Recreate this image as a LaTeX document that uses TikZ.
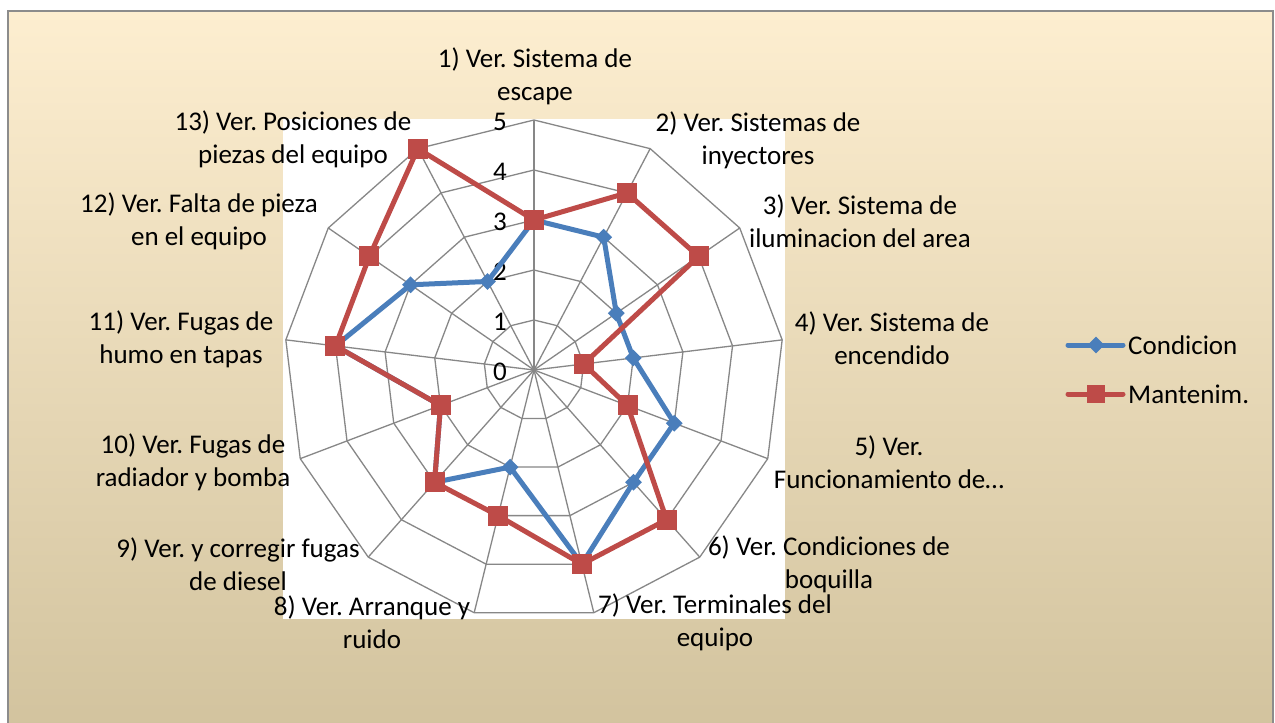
\documentclass[tikz,border=0pt]{standalone}
\usepackage{fontspec}
\setmainfont{Carlito}
\frenchspacing
\usetikzlibrary{shapes.geometric}
\definecolor{bgtop}{HTML}{FDEED0}
\definecolor{bgmid}{HTML}{F2EAD6}
\definecolor{bgbot}{HTML}{D2C39E}
\definecolor{gridc}{HTML}{878787}
\definecolor{framec}{HTML}{8C8C8C}
\definecolor{condc}{HTML}{4A7EBB}
\definecolor{mantc}{HTML}{BE4B48}
\tikzset{
  gridline/.style={draw=gridc, line width=1.3pt},
  condline/.style={draw=condc, line width=5pt, line join=round, line cap=round},
  mantline/.style={draw=mantc, line width=5pt, line join=round, line cap=round},
  dmark/.style={diamond, fill=condc, inner sep=0pt, minimum width=17pt, minimum height=17pt},
  smark/.style={rectangle, fill=mantc, inner sep=0pt, minimum size=20pt},
  lsmark/.style={rectangle, fill=mantc, inner sep=0pt, minimum size=18pt},
  lbl/.style={font=\fontsize{27}{33}\selectfont, align=center, inner sep=0pt, text=black},
  tick/.style={font=\fontsize{27}{31}\selectfont, inner sep=0pt, text=black},
  leg/.style={font=\fontsize{27}{31}\selectfont, inner sep=0pt, anchor=west, text=black}
}
\begin{document}
\begin{tikzpicture}[x=1pt, y=-1pt]
\useasboundingbox (0,0) rectangle (1275,723);
\fill[white] (0,0) rectangle (1275,723);
\shade[top color=bgtop, middle color=bgmid, bottom color=bgbot] (8,11) rectangle (1273,730);
\draw[framec, line width=2pt] (8,730) -- (8,11) -- (1273,11) -- (1273,730);
\fill[white] (283,119) rectangle (785,619);
% grid
\foreach \r in {1,...,5} {
  \draw[gridline] plot[samples at={0,...,12}] ({534+50*\r*sin(\x*360/13)},{370-50*\r*cos(\x*360/13)}) -- cycle;
}
\coordinate (c) at (534,370);
\foreach \k in {0,...,12} {
  \coordinate (ax\k) at ({534+250*sin(\k*360/13)},{370-250*cos(\k*360/13)});
  \draw[gridline] (c) -- (ax\k);
}
% tick labels
\foreach \v in {0,...,5} {
  \node[tick] (t\v) at (500,{372-50*\v}) {\v};
}
% data points
\foreach \v [count=\k from 0] in {3,3,2,2,3,3,4,2,3,2,4,3,2} {
  \coordinate (b\k) at ({534+50*\v*sin(\k*360/13)},{370-50*\v*cos(\k*360/13)});
}
\foreach \v [count=\k from 0] in {3,4,4,1,2,4,4,3,3,2,4,4,5} {
  \coordinate (m\k) at ({534+50*\v*sin(\k*360/13)},{370-50*\v*cos(\k*360/13)});
}
\draw[condline] (b0) -- (b1) -- (b2) -- (b3) -- (b4) -- (b5) -- (b6) -- (b7) -- (b8) -- (b9) -- (b10) -- (b11) -- (b12) -- cycle;
\foreach \k in {0,...,12} { \node[dmark] (bd\k) at (b\k) {}; }
\draw[mantline] (m0) -- (m1) -- (m2) -- (m3) -- (m4) -- (m5) -- (m6) -- (m7) -- (m8) -- (m9) -- (m10) -- (m11) -- (m12) -- cycle;
\foreach \k in {0,...,12} { \node[smark] (ms\k) at (m\k) {}; }
% axis labels
\node[lbl] (l1) at (535,76) {1) Ver. Sistema de\\escape};
\node[lbl] (l2) at (758,140) {2) Ver. Sistemas de\\inyectores};
\node[lbl] (l3) at (860,221) {3) Ver. Sistema de\\iluminacion del area};
\node[lbl] (l4) at (892,338) {4) Ver. Sistema de\\encendido};
\node[lbl] (l5) at (889,462) {5) Ver.\\Funcionamiento de…};
\node[lbl] (l6) at (829,564) {6) Ver. Condiciones de\\boquilla};
\node[lbl] (l7) at (715,622) {7) Ver. Terminales del\\equipo};
\node[lbl] (l8) at (372,622) {8) Ver. Arranque y\\ruido};
\node[lbl] (l9) at (238,564) {9) Ver. y corregir fugas\\de diesel};
\node[lbl] (l10) at (193,462) {10) Ver. Fugas de\\radiador y bomba};
\node[lbl] (l11) at (181,339) {11) Ver. Fugas de\\humo en tapas};
\node[lbl] (l12) at (199,221) {12) Ver. Falta de pieza\\en el equipo};
\node[lbl] (l13) at (293,139) {13) Ver. Posiciones de\\piezas del equipo};
% legend
\coordinate (lc1) at (1068,345);
\coordinate (lc2) at (1123,345);
\draw[condline] (lc1) -- (lc2);
\node[dmark] (ld1) at (1096,345) {};
\node[leg] (lt1) at (1128,345) {Condicion};
\coordinate (lm1) at (1068,394);
\coordinate (lm2) at (1123,394);
\draw[mantline] (lm1) -- (lm2);
\node[lsmark] (ld2) at (1096,394) {};
\node[leg] (lt2) at (1128,394) {Mantenim.};
\end{tikzpicture}
\end{document}
